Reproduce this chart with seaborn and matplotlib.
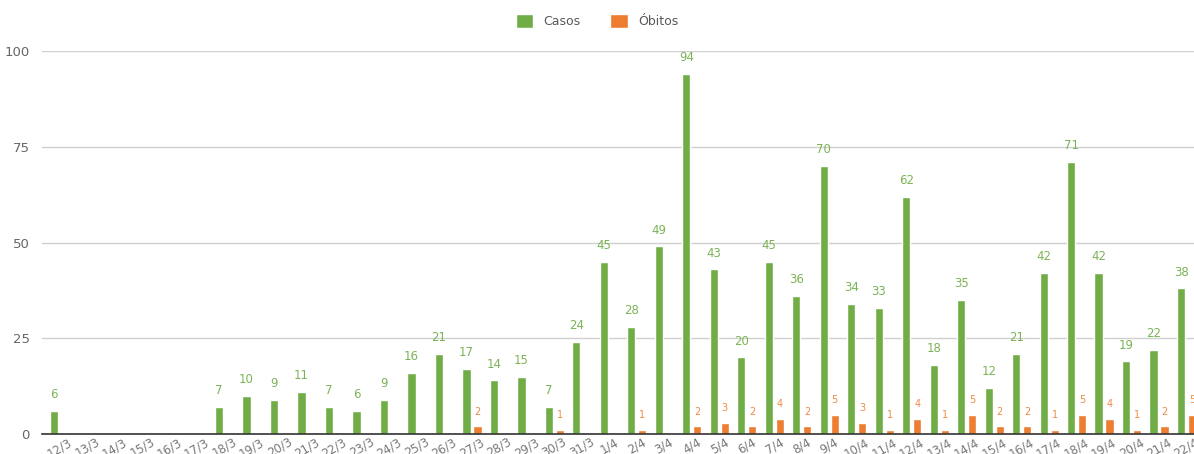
import pandas as pd
import matplotlib.pyplot as plt
import seaborn as sns
from matplotlib.patches import Patch

# Daily data
datas = ['12/3', '13/3', '14/3', '15/3', '16/3', '17/3', '18/3', '19/3', '20/3', '21/3',
         '22/3', '23/3', '24/3', '25/3', '26/3', '27/3', '28/3', '29/3', '30/3', '31/3',
         '1/4', '2/4', '3/4', '4/4', '5/4', '6/4', '7/4', '8/4', '9/4', '10/4',
         '11/4', '12/4', '13/4', '14/4', '15/4', '16/4', '17/4', '18/4', '19/4', '20/4',
         '21/4', '22/4']
casos = [6, 0, 0, 0, 0, 0, 7, 10, 9, 11,
         7, 6, 9, 16, 21, 17, 14, 15, 7, 24,
         45, 28, 49, 94, 43, 20, 45, 36, 70, 34,
         33, 62, 18, 35, 12, 21, 42, 71, 42, 19,
         22, 38]
obitos = [0, 0, 0, 0, 0, 0, 0, 0, 0, 0,
          0, 0, 0, 0, 0, 2, 0, 0, 1, 0,
          0, 1, 0, 2, 3, 2, 4, 2, 5, 3,
          1, 4, 1, 5, 2, 2, 1, 5, 4, 1,
          2, 5]

verde = '#70AD47'
laranja = '#ED7D31'

df = pd.DataFrame({'Data': datas, 'Casos': casos, 'Óbitos': obitos})
df = df.melt(id_vars='Data', var_name='Tipo', value_name='Valor')

sns.set_style('white')
plt.rcParams['font.family'] = ['DejaVu Sans']

fig = plt.figure(figsize=(11.94, 4.54), dpi=100)
ax = fig.add_axes([0.0352, 0.044, 0.9648, 0.8437])

sns.barplot(data=df, x='Data', y='Valor', hue='Tipo', order=datas,
            palette={'Casos': verde, 'Óbitos': laranja},
            width=0.8, gap=0.25, saturation=1, legend=False, ax=ax)

# value labels, only for non-zero bars
for cont, cor, tam in zip(ax.containers, ['#7cb356', '#ef8a45'], [8.5, 7]):
    vals = [p.get_height() for p in cont]
    labels = [f'{int(v)}' if v > 0 else '' for v in vals]
    ax.bar_label(cont, labels=labels, padding=7, color=cor, fontsize=tam,
                 clip_on=False)

ax.set_ylim(0, 100)
ax.set_xlim(-0.64, 41.27)
ax.set_yticks([0, 25, 50, 75, 100])
ax.yaxis.grid(True, color='#d0d0d0', linewidth=1)
ax.set_axisbelow(True)
for s in ['top', 'right', 'left']:
    ax.spines[s].set_visible(False)
ax.spines['bottom'].set_color('#333333')
ax.spines['bottom'].set_linewidth(1.2)
ax.tick_params(axis='y', length=0, labelsize=9.5, labelcolor='#666666', pad=9)
ax.tick_params(axis='x', length=0, labelsize=8.5, labelcolor='#777777', pad=1)
plt.setp(ax.get_xticklabels(), rotation=30)
ax.set_xlabel('')
ax.set_ylabel('')

handles = [Patch(facecolor=verde, label='Casos'), Patch(facecolor=laranja, label='Óbitos')]
fig.legend(handles=handles, loc='upper center', bbox_to_anchor=(0.5, 0.995), ncol=2,
           frameon=False, fontsize=9, labelcolor='#595959', handlelength=1.4,
           handleheight=1.4, handletextpad=0.8, columnspacing=2.4)

plt.savefig('out.png', dpi=100)
